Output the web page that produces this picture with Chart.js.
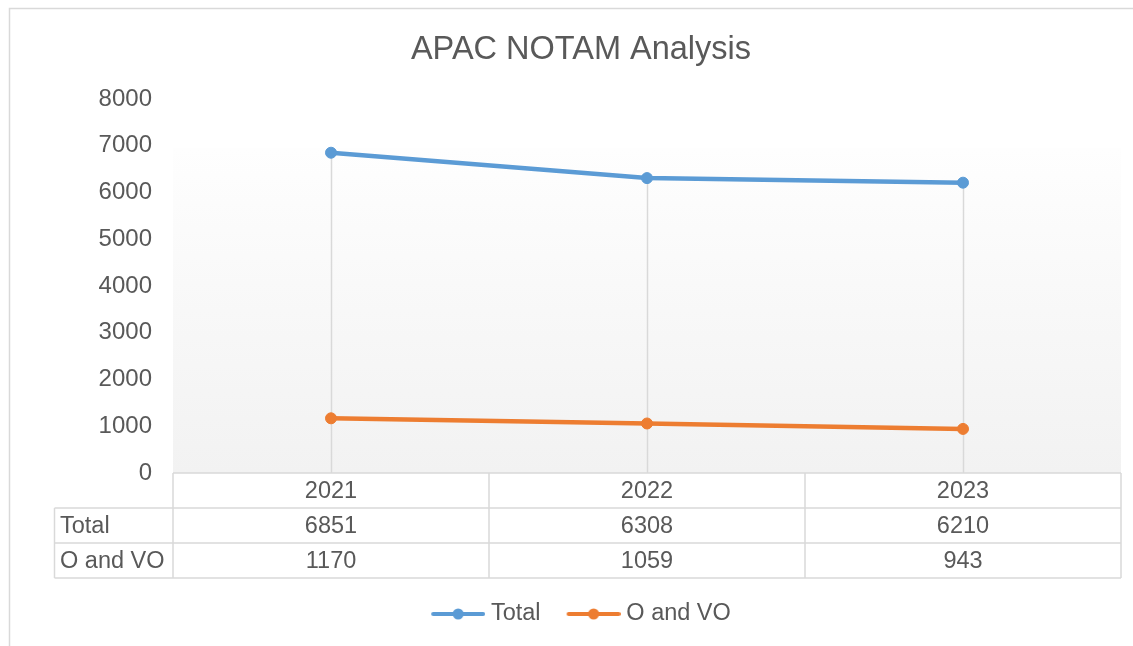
<!DOCTYPE html>
<html>
<head>
<meta charset="utf-8">
<title>APAC NOTAM Analysis</title>
<script src="https://cdn.jsdelivr.net/npm/chart.js@4/dist/chart.umd.min.js"></script>
<style>
  html, body { margin: 0; padding: 0; background: #ffffff; }
  canvas { display: block; }
</style>
</head>
<body>
<canvas id="notamChart" width="1133" height="646"></canvas>
<script>
// Chart data
const years = ['2021', '2022', '2023'];
const totalValues = [6851, 6308, 6210];
const oAndVoValues = [1170, 1059, 943];
const seriesNames = ['Total', 'O and VO'];
const seriesColors = ['#5b9bd5', '#ed7d31'];

const FONT = "'Liberation Sans', Arial, sans-serif";
const TEXT_GREY = '#595959';
const LINE_GREY = '#d9d9d9';

// Legend marker: line with a dot in the middle (Excel style)
function legendMarker(color) {
  const c = document.createElement('canvas');
  c.width = 60;
  c.height = 14;
  const g = c.getContext('2d');
  g.strokeStyle = color;
  g.lineWidth = 4;
  g.lineCap = 'round';
  g.beginPath();
  g.moveTo(8, 7);
  g.lineTo(58, 7);
  g.stroke();
  g.fillStyle = color;
  g.beginPath();
  g.arc(33, 7, 5.5, 0, Math.PI * 2);
  g.fill();
  return c;
}
const legendImages = seriesColors.map(legendMarker);

// Background, drop lines, data table and outer frame
const excelLook = {
  id: 'excelLook',
  beforeDraw(chart) {
    const { ctx, chartArea } = chart;
    ctx.save();
    const top = 148;
    const grad = ctx.createLinearGradient(0, top, 0, chartArea.bottom);
    grad.addColorStop(0, '#fefefe');
    grad.addColorStop(1, '#f2f2f2');
    ctx.fillStyle = grad;
    ctx.fillRect(chartArea.left, top, chartArea.right - chartArea.left, chartArea.bottom - top);

    // outer chart border
    ctx.strokeStyle = LINE_GREY;
    ctx.lineWidth = 1.5;
    ctx.strokeRect(9.5, 8.5, 1300, 800);
    ctx.restore();
  },
  beforeDatasetsDraw(chart) {
    const { ctx, chartArea, scales } = chart;
    ctx.save();
    ctx.strokeStyle = LINE_GREY;
    ctx.lineWidth = 1.5;
    years.forEach((yr, i) => {
      const maxVal = Math.max(totalValues[i], oAndVoValues[i]);
      const px = Math.round(scales.x.getPixelForValue(i)) + 0.5;
      ctx.beginPath();
      ctx.moveTo(px, scales.y.getPixelForValue(maxVal));
      ctx.lineTo(px, chartArea.bottom);
      ctx.stroke();
    });
    ctx.restore();
  },
  afterDraw(chart) {
    const { ctx, chartArea, scales } = chart;
    const rowTop = 473;
    const rowH = 35;
    const labelLeft = 54.5;
    const left = chartArea.left;
    const right = chartArea.right;
    const step = scales.x.getPixelForValue(1) - scales.x.getPixelForValue(0);
    const rows = [totalValues, oAndVoValues];

    ctx.save();
    ctx.strokeStyle = LINE_GREY;
    ctx.lineWidth = 1.5;
    // horizontal lines
    ctx.beginPath();
    ctx.moveTo(left, rowTop);
    ctx.lineTo(right, rowTop);
    for (let r = 1; r <= 3; r++) {
      ctx.moveTo(labelLeft, rowTop + r * rowH);
      ctx.lineTo(right, rowTop + r * rowH);
    }
    // vertical lines
    ctx.moveTo(labelLeft, rowTop + rowH);
    ctx.lineTo(labelLeft, rowTop + 3 * rowH);
    for (let i = 0; i <= years.length; i++) {
      const x = i < years.length ? scales.x.getPixelForValue(i) - step / 2 : right;
      ctx.moveTo(x, rowTop);
      ctx.lineTo(x, rowTop + 3 * rowH);
    }
    ctx.stroke();

    // texts
    ctx.fillStyle = TEXT_GREY;
    ctx.font = '23.5px ' + FONT;
    ctx.textBaseline = 'middle';
    ctx.textAlign = 'center';
    years.forEach((yr, i) => {
      const cx = scales.x.getPixelForValue(i);
      ctx.fillText(yr, cx, rowTop + rowH / 2 + 1);
      rows.forEach((vals, r) => {
        ctx.fillText(String(vals[i]), cx, rowTop + (r + 1.5) * rowH + 1);
      });
    });
    ctx.textAlign = 'left';
    seriesNames.forEach((name, r) => {
      ctx.fillText(name, 60, rowTop + (r + 1.5) * rowH + 1);
    });
    ctx.restore();
  }
};

const ctx = document.getElementById('notamChart').getContext('2d');

const notamChart = new Chart(ctx, {
  type: 'line',
  data: {
    labels: years,
    datasets: [{
      label: seriesNames[0],
      data: totalValues,
      borderColor: seriesColors[0],
      backgroundColor: seriesColors[0],
      pointBackgroundColor: seriesColors[0],
      pointBorderColor: seriesColors[0],
      borderWidth: 4.5,
      pointRadius: 5.5,
      pointBorderWidth: 1,
      tension: 0
    }, {
      label: seriesNames[1],
      data: oAndVoValues,
      borderColor: seriesColors[1],
      backgroundColor: seriesColors[1],
      pointBackgroundColor: seriesColors[1],
      pointBorderColor: seriesColors[1],
      borderWidth: 4.5,
      pointRadius: 5.5,
      pointBorderWidth: 1,
      tension: 0
    }]
  },
  options: {
    responsive: false,
    animation: false,
    maintainAspectRatio: false,
    layout: {
      padding: { left: 41, right: 12, top: 0, bottom: 10.25 }
    },
    scales: {
      x: {
        offset: true,
        grid: { display: false },
        border: { display: false },
        ticks: { display: false },
        afterFit: (scale) => { scale.height = 103.25; }
      },
      y: {
        min: 0,
        max: 8000,
        grid: { display: false, drawTicks: false },
        border: { display: false },
        ticks: {
          stepSize: 1000,
          padding: 21,
          color: TEXT_GREY,
          font: { family: FONT, size: 24 },
          callback: (value) => String(value)
        },
        afterFit: (scale) => { scale.width = 132; }
      }
    },
    plugins: {
      title: {
        display: true,
        text: 'APAC NOTAM Analysis',
        color: TEXT_GREY,
        font: { family: FONT, size: 32.5, weight: 'normal' },
        padding: { top: 30.5, bottom: 29.5 }
      },
      legend: {
        position: 'bottom',
        labels: {
          usePointStyle: true,
          pointStyleWidth: 48,
          padding: 26,
          color: TEXT_GREY,
          font: { family: FONT, size: 23.5 },
          generateLabels: (chart) => {
            const items = Chart.defaults.plugins.legend.labels.generateLabels(chart);
            items.forEach((item, i) => { item.pointStyle = legendImages[i]; });
            return items;
          }
        }
      },
      tooltip: { enabled: false }
    }
  },
  plugins: [excelLook]
});
</script>
</body>
</html>
